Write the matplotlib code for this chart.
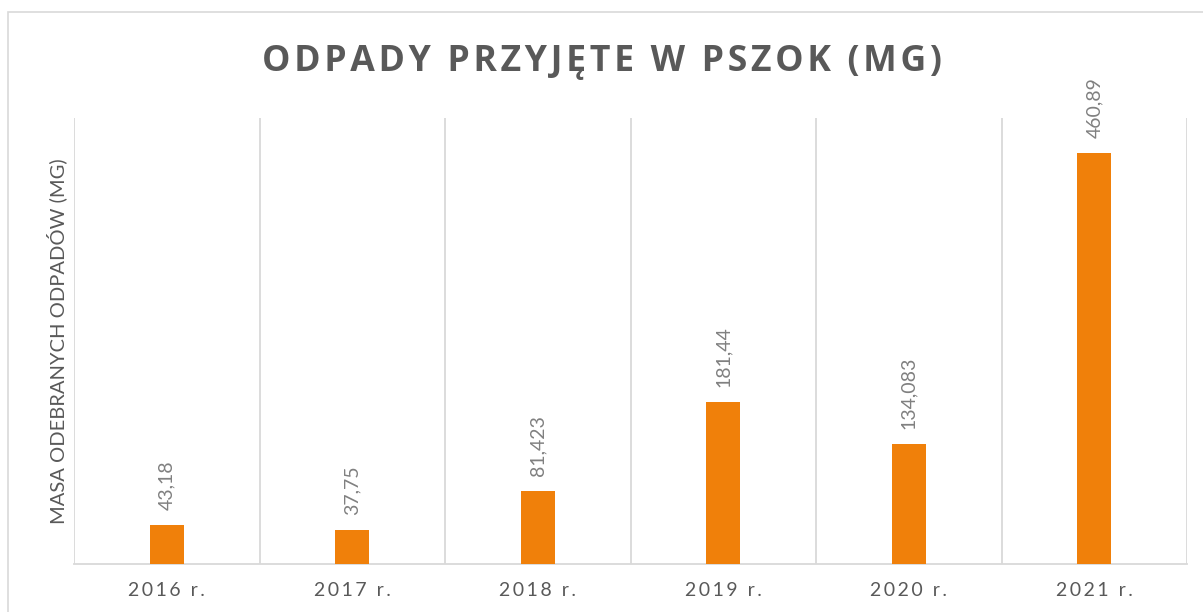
import matplotlib
matplotlib.use("Agg")
import matplotlib.pyplot as plt
from matplotlib.patches import Rectangle

categories = ["2016 r.", "2017 r.", "2018 r.", "2019 r.", "2020 r.", "2021 r."]
values = [43.18, 37.75, 81.423, 181.44, 134.083, 460.89]
value_labels = ["43,18", "37,75", "81,423", "181,44", "134,083", "460,89"]
title = "ODPADY PRZYJĘTE W PSZOK (MG)"
ylabel = "MASA ODEBRANYCH ODPADÓW (MG)"

plt.rcParams['font.family'] = ['Lato', 'DejaVu Sans']

def spaced(s, sep='\u200a'):
    return sep.join(s)

fig = plt.figure(figsize=(12.03, 6.12), dpi=100)
fig.patch.set_facecolor('white')
# outer chart frame
fig.patches.append(Rectangle((8/1203, -0.1), 1.2, (612-12)/612 + 0.1, transform=fig.transFigure,
                             fill=False, edgecolor='#d9d9d9', linewidth=1.2))

ax = fig.add_axes([74/1203, 48/612, (1187-74)/1203, (564-118)/612])
x = list(range(len(categories)))
ax.bar(x, values, width=0.183, color='#f0800a', zorder=3)
ax.set_xlim(-0.5, len(categories) - 0.5)
ax.set_ylim(0, 500)

for b in [i - 0.5 for i in range(len(categories) + 1)]:
    ax.axvline(b, color='#d9d9d9', linewidth=1.3, zorder=1)

for s in ['top', 'right', 'left']:
    ax.spines[s].set_visible(False)
ax.spines['bottom'].set_color('#d9d9d9')
ax.spines['bottom'].set_linewidth(1.3)
ax.set_yticks([])
ax.set_xticks(x)
ax.set_xticklabels([spaced(c, '\u2009') for c in categories], fontsize=14, color='#595959')
ax.tick_params(axis='x', length=0, pad=13)

for i, (v, lab) in enumerate(zip(values, value_labels)):
    ax.annotate(lab, (i, v), xytext=(0, 11), textcoords='offset points', rotation=90,
                ha='center', va='bottom', fontsize=14, color='#808080')

ax.set_ylabel(ylabel, fontsize=14.5, color='#595959')
ax.yaxis.set_label_coords(-0.006, 0.5)

fig.text(0.5, 1 - 62/612, spaced(title, '\u200a'), ha='center', va='center',
         fontsize=25.7, fontweight='bold', color='#595959',
         family=['Open Sans', 'DejaVu Sans'])

fig.savefig('out.png', dpi=100, facecolor='white')
